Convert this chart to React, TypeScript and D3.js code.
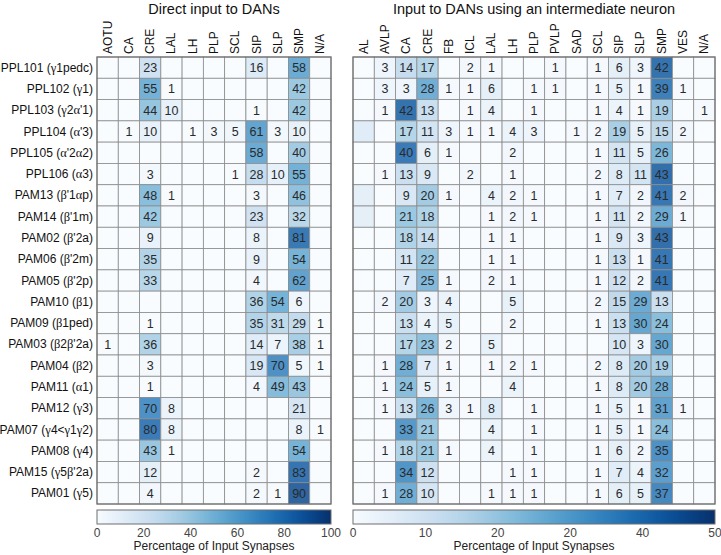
import React from "react";
import * as d3 from "d3";

const rowLabels = [
  "PPL101 (γ1pedc)", "PPL102 (γ1)", "PPL103 (γ2α'1)", "PPL104 (α'3)", "PPL105 (α'2α2)",
  "PPL106 (α3)", "PAM13 (β'1αp)", "PAM14 (β'1m)", "PAM02 (β'2a)", "PAM06 (β'2m)",
  "PAM05 (β'2p)", "PAM10 (β1)", "PAM09 (β1ped)", "PAM03 (β2β'2a)", "PAM04 (β2)",
  "PAM11 (α1)", "PAM12 (γ3)", "PAM07 (γ4<γ1γ2)", "PAM08 (γ4)", "PAM15 (γ5β'2a)", "PAM01 (γ5)",
];

const leftCols = ["AOTU", "CA", "CRE", "LAL", "LH", "PLP", "SCL", "SIP", "SLP", "SMP", "N/A"];
const rightCols = ["AL", "AVLP", "CA", "CRE", "FB", "ICL", "LAL", "LH", "PLP", "PVLP", "SAD", "SCL", "SIP", "SLP", "SMP", "VES", "N/A"];

// 0 = empty
const leftValues = [
  [0, 0, 23, 0, 0, 0, 0, 16, 0, 58, 0],
  [0, 0, 55, 1, 0, 0, 0, 0, 0, 42, 0],
  [0, 0, 44, 10, 0, 0, 0, 1, 0, 42, 0],
  [0, 1, 10, 0, 1, 3, 5, 61, 3, 10, 0],
  [0, 0, 0, 0, 0, 0, 0, 58, 0, 40, 0],
  [0, 0, 3, 0, 0, 0, 1, 28, 10, 55, 0],
  [0, 0, 48, 1, 0, 0, 0, 3, 0, 46, 0],
  [0, 0, 42, 0, 0, 0, 0, 23, 0, 32, 0],
  [0, 0, 9, 0, 0, 0, 0, 8, 0, 81, 0],
  [0, 0, 35, 0, 0, 0, 0, 9, 0, 54, 0],
  [0, 0, 33, 0, 0, 0, 0, 4, 0, 62, 0],
  [0, 0, 0, 0, 0, 0, 0, 36, 54, 6, 0],
  [0, 0, 1, 0, 0, 0, 0, 35, 31, 29, 1],
  [1, 0, 36, 0, 0, 0, 0, 14, 7, 38, 1],
  [0, 0, 3, 0, 0, 0, 0, 19, 70, 5, 1],
  [0, 0, 1, 0, 0, 0, 0, 4, 49, 43, 0],
  [0, 0, 70, 8, 0, 0, 0, 0, 0, 21, 0],
  [0, 0, 80, 8, 0, 0, 0, 0, 0, 8, 1],
  [0, 0, 43, 1, 0, 0, 0, 0, 0, 54, 0],
  [0, 0, 12, 0, 0, 0, 0, 2, 0, 83, 0],
  [0, 0, 4, 0, 0, 0, 0, 2, 1, 90, 0],
];

const rightValues = [
  //AL AVLP CA CRE FB ICL LAL LH PLP PVLP SAD SCL SIP SLP SMP VES N/A
  [0, 3, 14, 17, 0, 2, 1, 0, 0, 1, 0, 1, 6, 3, 42, 0, 0],
  [0, 3, 3, 28, 1, 1, 6, 0, 1, 1, 0, 1, 5, 1, 39, 1, 0],
  [0, 1, 42, 13, 0, 1, 4, 0, 1, 0, 0, 1, 4, 1, 19, 0, 1],
  [7, 0, 17, 11, 3, 1, 1, 4, 3, 0, 1, 2, 19, 5, 15, 2, 0],
  [0, 0, 40, 6, 1, 0, 0, 2, 0, 0, 0, 1, 11, 5, 26, 0, 0],
  [0, 1, 13, 9, 0, 2, 0, 1, 0, 0, 0, 2, 8, 11, 43, 0, 0],
  [6, 0, 9, 20, 1, 0, 4, 2, 1, 0, 0, 1, 7, 2, 41, 2, 0],
  [6, 0, 21, 18, 0, 0, 1, 2, 1, 0, 0, 1, 11, 2, 29, 1, 0],
  [0, 0, 18, 14, 0, 0, 1, 1, 0, 0, 0, 1, 9, 3, 43, 0, 0],
  [0, 0, 11, 22, 0, 0, 1, 1, 0, 0, 0, 1, 13, 1, 41, 0, 0],
  [0, 0, 7, 25, 1, 0, 2, 1, 0, 0, 0, 1, 12, 2, 41, 0, 0],
  [0, 2, 20, 3, 4, 0, 0, 5, 0, 0, 0, 2, 15, 29, 13, 0, 0],
  [0, 0, 13, 4, 5, 0, 0, 2, 0, 0, 0, 1, 13, 30, 24, 0, 0],
  [0, 0, 17, 23, 2, 0, 5, 0, 0, 0, 0, 0, 10, 3, 30, 0, 0],
  [0, 1, 28, 7, 1, 0, 1, 2, 1, 0, 0, 2, 8, 20, 19, 0, 0],
  [0, 1, 24, 5, 1, 0, 0, 4, 0, 0, 0, 1, 8, 20, 28, 0, 0],
  [0, 1, 13, 26, 3, 1, 8, 0, 1, 0, 0, 1, 5, 1, 31, 1, 0],
  [0, 0, 33, 21, 0, 0, 4, 0, 1, 0, 0, 1, 5, 1, 24, 0, 0],
  [0, 1, 18, 21, 1, 0, 4, 0, 1, 0, 0, 1, 6, 2, 35, 0, 0],
  [0, 0, 34, 12, 0, 0, 0, 1, 1, 0, 0, 1, 7, 4, 32, 0, 0],
  [0, 1, 28, 10, 0, 0, 1, 1, 1, 0, 0, 1, 6, 5, 37, 0, 0],
];

// shaded cells whose numbers are not printed in the reference
const rightHiddenLabels = ["3-0", "6-0", "7-0"];

const leftTicks = [0, 20, 40, 60, 80, 100];
const leftTickLabels = ["0", "20", "40", "60", "80", "100"];
const rightTicks = [0, 10, 20, 30, 40, 50];
const rightTickLabels = ["0", "10", "20", "20", "40", "50"];

const titles = ["Direct input to DANs", "Input to DANs using an intermediate neuron"];
const cbTitle = "Percentage of Input Synapses";

const SANS = "Arial, 'Liberation Sans', Helvetica, sans-serif";
const GREEK_FONT = "'Liberation Serif', 'DejaVu Serif', serif";

function cellColor(v: number, max: number) {
  const c = d3.color(d3.interpolateBlues(Math.min(1, v / max)))!.rgb();
  const a = 0.85;
  const mix = (x: number) => Math.round(x * a + 255 * (1 - a));
  return `rgb(${mix(c.r)},${mix(c.g)},${mix(c.b)})`;
}

function RowLabel({ text, x, y }: { text: string; x: number; y: number }) {
  const parts: { s: string; g: boolean }[] = [];
  for (const ch of text) {
    const g = /[α-ωΑ-Ω]/.test(ch);
    const last = parts[parts.length - 1];
    if (last && last.g === g) last.s += ch;
    else parts.push({ s: ch, g });
  }
  return (
    <text x={x} y={y} textAnchor="end" dominantBaseline="central" fontFamily={SANS} fontSize={12} fill="#111">
      {parts.map((p, i) => (
        <tspan key={i} fontFamily={p.g ? GREEK_FONT : SANS} fontSize={p.g ? 12.5 : 12}>{p.s}</tspan>
      ))}
    </text>
  );
}

function Panel({
  cols, values, x0, x1, max, ticks, tickLabels, title, hidden, gid,
}: {
  cols: string[]; values: number[][]; x0: number; x1: number; max: number;
  ticks: number[]; tickLabels: string[]; title: string; hidden: string[]; gid: string;
}) {
  const y0 = 57, y1 = 504;
  const x = d3.scaleBand<string>().domain(cols).range([x0, x1]);
  const y = d3.scaleBand<string>().domain(rowLabels).range([y0, y1]);
  const cbY = 510, cbH = 14;
  const cbScale = d3.scaleLinear().domain([0, max]).range([x0, x1]);
  const stops = d3.range(0, 1.0001, 0.05);
  return (
    <g>
      <text x={(x0 + x1) / 2} y={14} textAnchor="middle" fontFamily={SANS} fontSize={14.5} fill="#111">{title}</text>
      {cols.map((c) => (
        <text key={c} transform={`translate(${x(c)! + x.bandwidth() / 2},54) rotate(-90)`} textAnchor="start"
          dominantBaseline="central" fontFamily={SANS} fontSize={12} fill="#111">{c}</text>
      ))}
      {values.map((row, ri) =>
        row.map((v, ci) => (
          <rect key={`${ri}-${ci}`} x={x(cols[ci])} y={y(rowLabels[ri])} width={x.bandwidth()} height={y.bandwidth()}
            fill={cellColor(v, max)} stroke="#8c8c8c" strokeWidth={0.8} />
        ))
      )}
      {values.map((row, ri) =>
        row.map((v, ci) =>
          v > 0 && !hidden.includes(`${ri}-${ci}`) ? (
            <text key={`t${ri}-${ci}`} x={x(cols[ci])! + x.bandwidth() / 2} y={y(rowLabels[ri])! + y.bandwidth() / 2 + 0.5}
              textAnchor="middle" dominantBaseline="central" fontFamily={SANS} fontSize={12.5} fill="#2a2a2a">{v}</text>
          ) : null
        )
      )}
      <rect x={x0} y={y0} width={x1 - x0} height={y1 - y0} fill="none" stroke="#6f6f6f" strokeWidth={1.2} />
      <defs>
        <linearGradient id={gid} x1="0" x2="1" y1="0" y2="0">
          {stops.map((s) => (
            <stop key={s} offset={`${s * 100}%`} stopColor={d3.interpolateBlues(s)} />
          ))}
        </linearGradient>
      </defs>
      <rect x={x0} y={cbY} width={x1 - x0} height={cbH} fill={`url(#${gid})`} stroke="#6f6f6f" strokeWidth={1} />
      {ticks.map((t, i) => (
        <text key={i} x={cbScale(t)} y={537} textAnchor="middle" fontFamily={SANS} fontSize={12} fill="#444">{tickLabels[i]}</text>
      ))}
      <text x={(x0 + x1) / 2} y={550} textAnchor="middle" fontFamily={SANS} fontSize={12} fill="#222">{cbTitle}</text>
    </g>
  );
}

export default function App() {
  const ly = d3.scaleBand<string>().domain(rowLabels).range([57, 504]);
  return (
    <svg width={721} height={555} style={{ position: "absolute", left: 0, top: 0, background: "#fff" }}>
      <rect width={721} height={555} fill="#fff" />
      {rowLabels.map((r) => (
        <RowLabel key={r} text={r} x={93} y={ly(r)! + ly.bandwidth() / 2} />
      ))}
      <Panel cols={leftCols} values={leftValues} x0={97} x1={331} max={100} ticks={leftTicks}
        tickLabels={leftTickLabels} title={titles[0]} hidden={[]} gid="gl" />
      <Panel cols={rightCols} values={rightValues} x0={353} x1={715} max={50} ticks={rightTicks}
        tickLabels={rightTickLabels} title={titles[1]} hidden={rightHiddenLabels} gid="gr" />
    </svg>
  );
}
